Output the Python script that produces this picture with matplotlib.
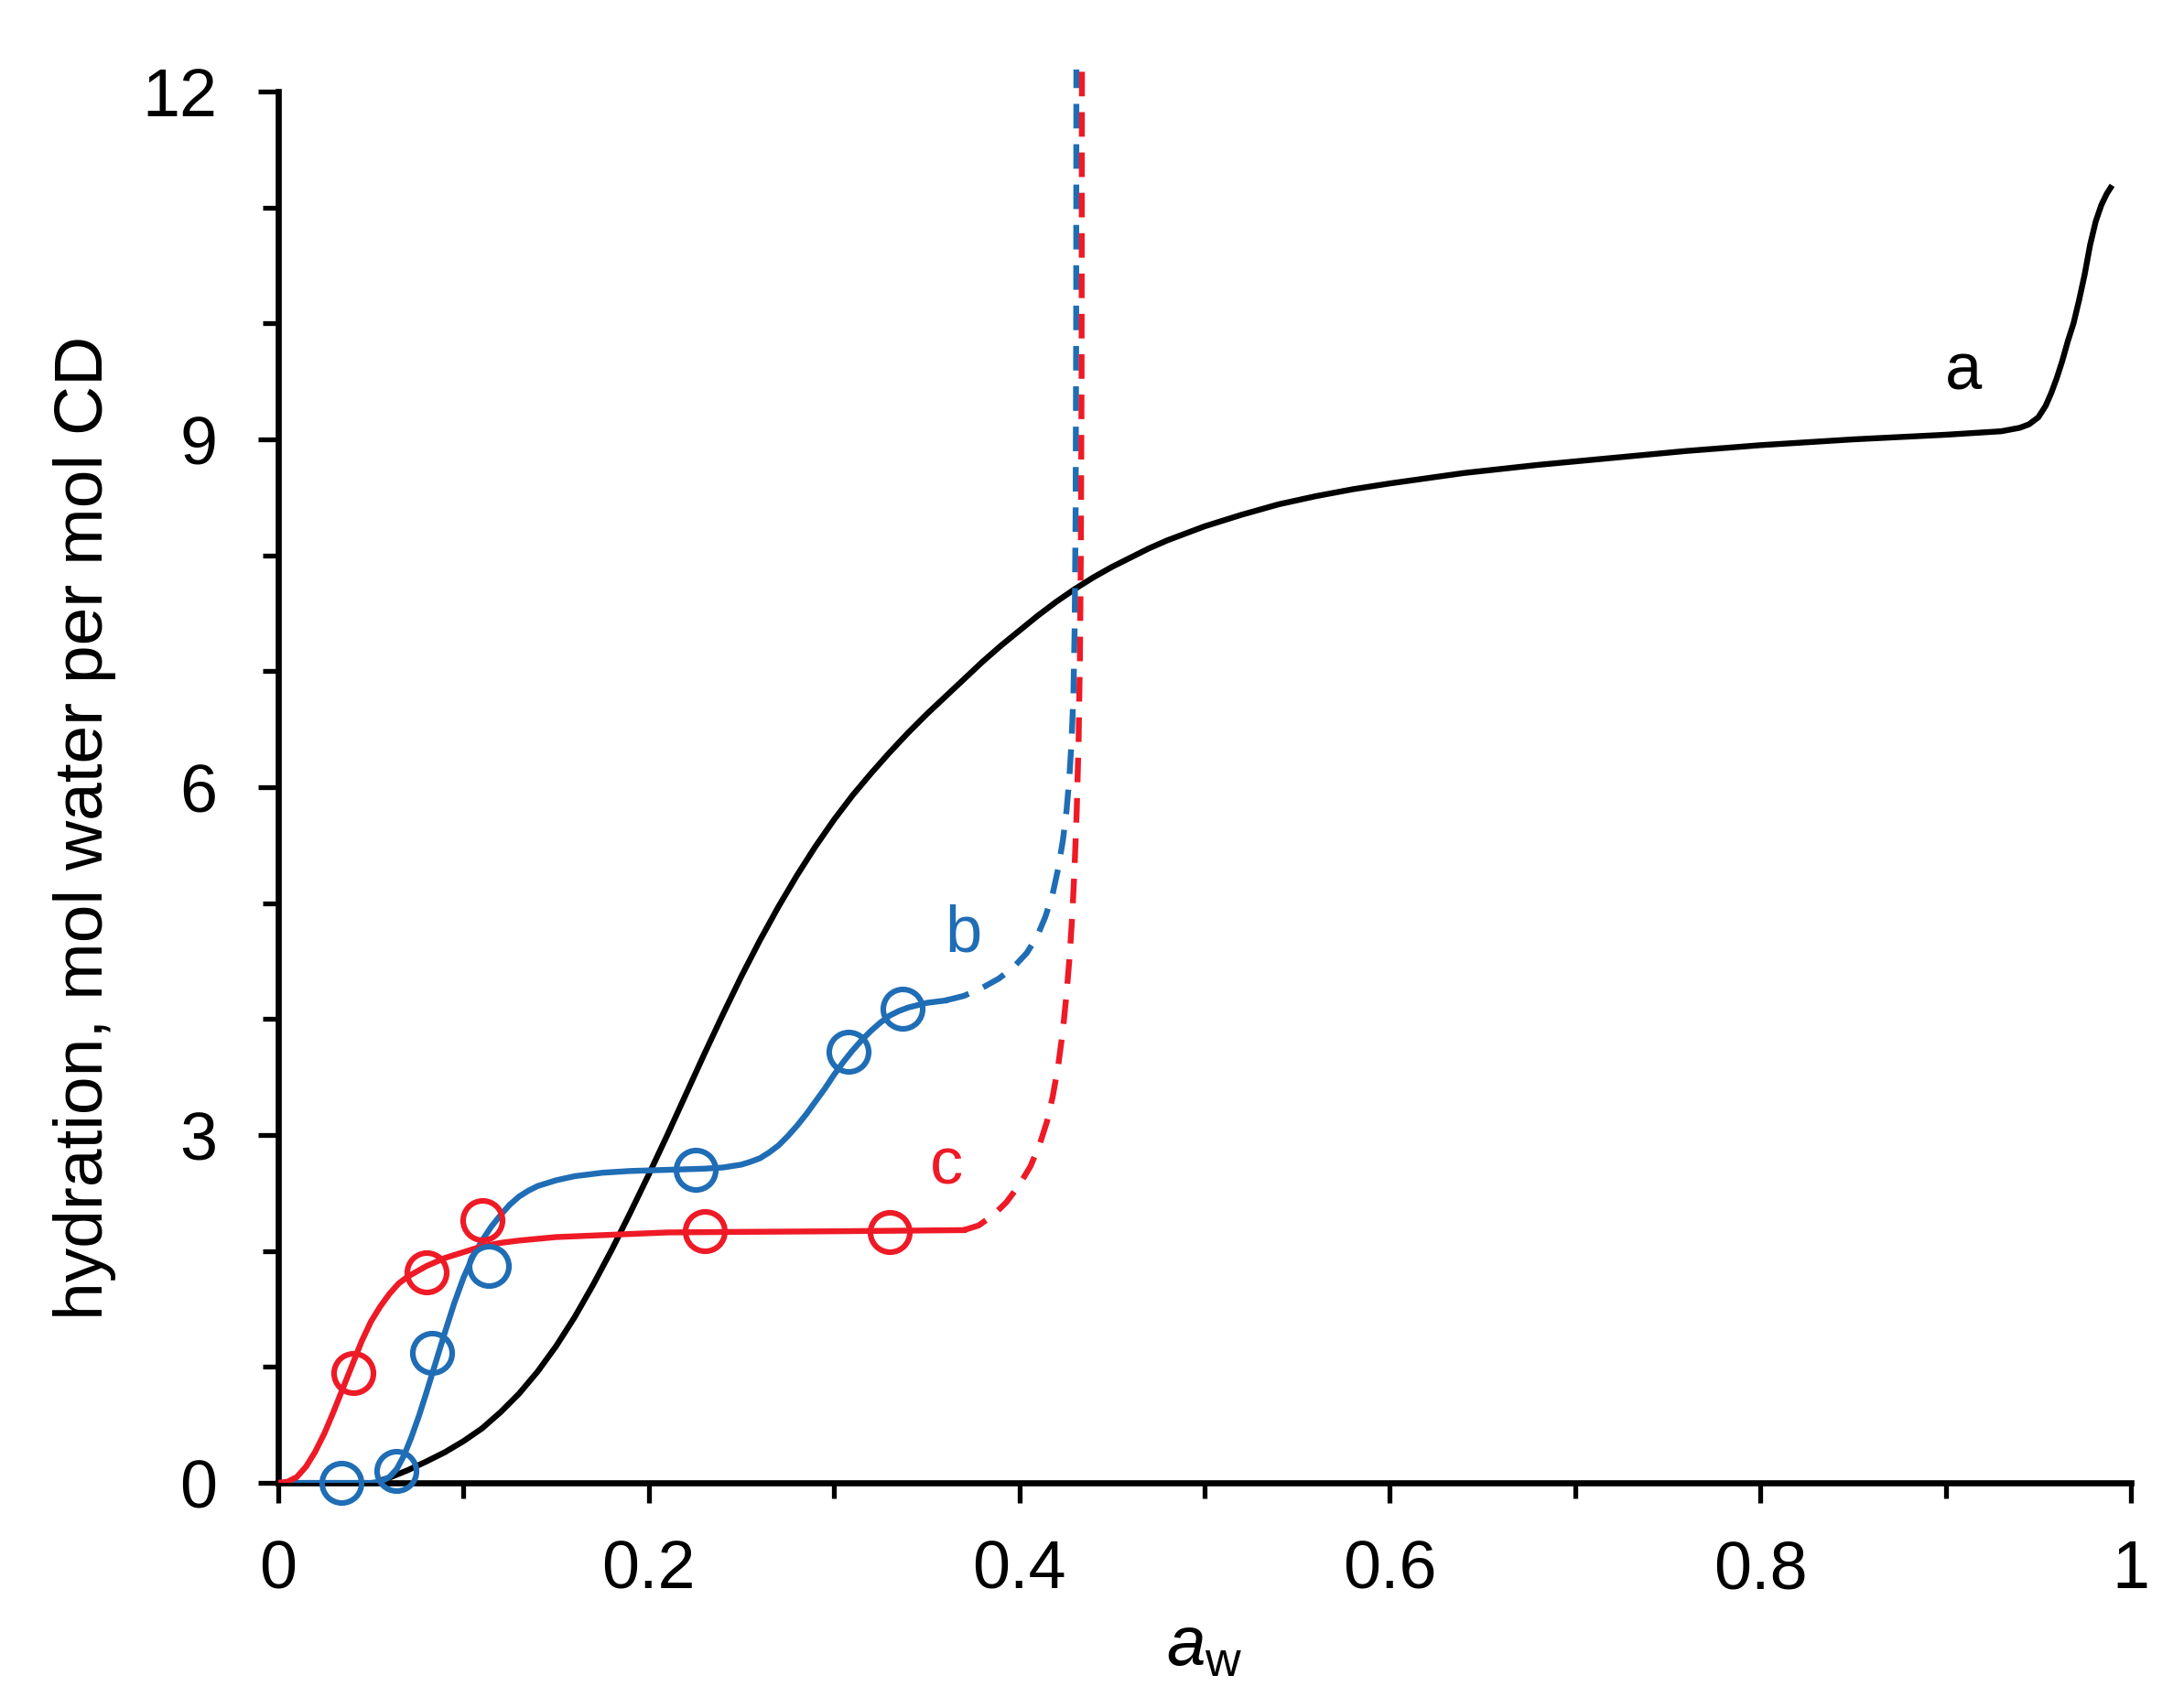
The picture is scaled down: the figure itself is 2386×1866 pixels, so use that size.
import matplotlib
matplotlib.use("Agg")
import matplotlib.pyplot as plt
from matplotlib.ticker import MultipleLocator, FixedLocator

plt.rcParams['font.family'] = ['Liberation Sans', 'DejaVu Sans']
plt.rcParams['mathtext.fontset'] = 'custom'
plt.rcParams['mathtext.rm'] = 'Liberation Sans'
plt.rcParams['mathtext.it'] = 'Liberation Sans:italic'

BLACK = '#000000'
BLUE = '#1f6db5'
RED = '#ee1a26'

# curve a (black)
a_x = [0.055, 0.06, 0.07, 0.08, 0.09, 0.10, 0.11, 0.12, 0.13, 0.14,
       0.15, 0.16, 0.17, 0.18, 0.19, 0.20, 0.21, 0.22, 0.23, 0.24,
       0.25, 0.26, 0.27, 0.28, 0.29, 0.30, 0.31, 0.32, 0.33, 0.34,
       0.35, 0.36, 0.37, 0.38, 0.39, 0.40, 0.41, 0.42, 0.43, 0.44,
       0.45, 0.46, 0.47, 0.48, 0.49, 0.50, 0.52, 0.54, 0.56, 0.58,
       0.60, 0.64, 0.68, 0.72, 0.76, 0.80, 0.85, 0.90, 0.93, 0.94,
       0.945, 0.950, 0.954, 0.957, 0.960, 0.963, 0.966, 0.969, 0.972, 0.975,
       0.978, 0.981, 0.984, 0.987, 0.989]
a_y = [0.02, 0.045, 0.11, 0.185, 0.265, 0.36, 0.47, 0.61, 0.77, 0.96,
       1.18, 1.43, 1.71, 2.01, 2.33, 2.66, 3.00, 3.35, 3.70, 4.04,
       4.37, 4.68, 4.97, 5.24, 5.49, 5.72, 5.93, 6.12, 6.30, 6.47,
       6.63, 6.78, 6.93, 7.08, 7.22, 7.35, 7.48, 7.60, 7.71, 7.81,
       7.90, 7.98, 8.06, 8.13, 8.19, 8.25, 8.35, 8.44, 8.51, 8.57,
       8.62, 8.71, 8.78, 8.84, 8.90, 8.95, 9.00, 9.04, 9.07, 9.10,
       9.13, 9.19, 9.29, 9.40, 9.53, 9.68, 9.85, 10.00, 10.20, 10.42,
       10.68, 10.88, 11.02, 11.12, 11.17]

# curve b (blue): fitted line (solid, then dashed) and data points
b_x = [0.0, 0.05, 0.055, 0.06, 0.064, 0.068, 0.072, 0.076, 0.080, 0.085,
       0.090, 0.095, 0.100, 0.105, 0.110, 0.115, 0.120, 0.125, 0.130, 0.135,
       0.140, 0.150, 0.160, 0.175, 0.19, 0.21, 0.23, 0.24, 0.25, 0.255,
       0.26, 0.265, 0.27, 0.275, 0.28, 0.285, 0.29, 0.295, 0.30, 0.305,
       0.31, 0.315, 0.32, 0.325, 0.33, 0.335, 0.34, 0.345, 0.35, 0.36]
b_y = [0.0, 0.0, 0.01, 0.05, 0.12, 0.24, 0.40, 0.58, 0.78, 1.04,
       1.30, 1.55, 1.77, 1.95, 2.09, 2.21, 2.31, 2.40, 2.47, 2.52,
       2.56, 2.61, 2.645, 2.675, 2.69, 2.70, 2.71, 2.72, 2.745, 2.77,
       2.80, 2.85, 2.91, 2.99, 3.08, 3.18, 3.29, 3.40, 3.52, 3.63,
       3.73, 3.82, 3.90, 3.97, 4.03, 4.07, 4.10, 4.12, 4.14, 4.16]
b_dash_x = [0.360, 0.370, 0.380, 0.389, 0.397, 0.404, 0.4095, 0.414, 0.418, 0.421,
            0.4235, 0.4255, 0.4270, 0.4282, 0.4292, 0.4299, 0.4304, 0.4307, 0.4308]
b_dash_y = [4.16, 4.20, 4.27, 4.35, 4.45, 4.57, 4.71, 4.88, 5.08, 5.30,
            5.54, 5.80, 6.08, 6.40, 6.80, 7.40, 8.40, 10.0, 12.19]
b_pts_x = [0.0342, 0.0639, 0.0828, 0.1137, 0.2252, 0.308, 0.337]
b_pts_y = [0.0, 0.105, 1.12, 1.87, 2.70, 3.72, 4.09]

# curve c (red)
c_x = [0.0, 0.005, 0.01, 0.015, 0.02, 0.025, 0.03, 0.035, 0.04, 0.045,
       0.05, 0.055, 0.06, 0.065, 0.07, 0.08, 0.09, 0.10, 0.11, 0.12,
       0.13, 0.15, 0.18, 0.21, 0.25, 0.30, 0.37]
c_y = [0.0, 0.01, 0.05, 0.14, 0.27, 0.43, 0.62, 0.82, 1.02, 1.22,
       1.39, 1.52, 1.63, 1.72, 1.78, 1.87, 1.94, 1.99, 2.04, 2.07,
       2.09, 2.12, 2.14, 2.16, 2.165, 2.17, 2.18]
c_dash_x = [0.370, 0.378, 0.386, 0.393, 0.400, 0.406, 0.411, 0.415, 0.418, 0.421,
            0.4235, 0.4255, 0.4272, 0.4286, 0.4298, 0.4310, 0.4320, 0.4327, 0.4332, 0.4336,
            0.4338]
c_dash_y = [2.18, 2.22, 2.31, 2.42, 2.57, 2.73, 2.92, 3.12, 3.33, 3.60,
            3.90, 4.22, 4.55, 4.90, 5.30, 5.80, 6.40, 7.10, 8.00, 9.50,
            12.19]
c_pts_x = [0.0405, 0.0800, 0.110, 0.2303, 0.330]
c_pts_y = [0.95, 1.82, 2.27, 2.17, 2.16]

x_ticks = [0, 0.2, 0.4, 0.6, 0.8, 1.0]
x_labels = ['0', '0.2', '0.4', '0.6', '0.8', '1']
y_ticks = [0, 3, 6, 9, 12]
y_labels = ['0', '3', '6', '9', '12']

fig = plt.figure(figsize=(11.93, 9.33), dpi=200)
ax = fig.add_axes([0.1274, 0.1318, 0.8483, 0.8146])

lw = 2.3
dash = (4.2, 2.7)
ms = 15.5
mew = 2.2

ax.plot(a_x, a_y, color=BLACK, lw=lw, zorder=3)

ax.plot(b_x, b_y, color=BLUE, lw=lw, zorder=3)
ax.plot(b_dash_x, b_dash_y, color=BLUE, lw=lw, dashes=dash, clip_on=False, zorder=3)
ax.plot(b_pts_x, b_pts_y, ls='none', marker='o', ms=ms, mfc='none', mec=BLUE,
        mew=mew, clip_on=False, zorder=4)

ax.plot(c_x, c_y, color=RED, lw=lw, zorder=3)
ax.plot(c_dash_x, c_dash_y, color=RED, lw=lw, dashes=dash, clip_on=False, zorder=3)
ax.plot(c_pts_x, c_pts_y, ls='none', marker='o', ms=ms, mfc='none', mec=RED,
        mew=mew, clip_on=False, zorder=4)

# curve labels
ax.text(0.9096, 9.43, 'a', color=BLACK, fontsize=26, ha='center', va='baseline')
ax.text(0.3696, 4.58, 'b', color=BLUE, fontsize=26, ha='center', va='baseline')
ax.text(0.3606, 2.58, 'c', color=RED, fontsize=26, ha='center', va='baseline')

ax.set_xlim(0, 1)
ax.set_ylim(0, 12)
ax.xaxis.set_major_locator(FixedLocator(x_ticks))
ax.set_xticklabels(x_labels)
ax.xaxis.set_minor_locator(MultipleLocator(0.1))
ax.yaxis.set_major_locator(FixedLocator(y_ticks))
ax.set_yticklabels(y_labels)
ax.yaxis.set_minor_locator(MultipleLocator(1))

for side in ['top', 'right']:
    ax.spines[side].set_visible(False)
for side in ['left', 'bottom']:
    ax.spines[side].set_linewidth(2.4)

ax.tick_params(axis='both', which='major', direction='out', length=8, width=1.9,
               labelsize=26.5)
ax.tick_params(axis='both', which='minor', direction='out', length=6, width=1.9)
ax.tick_params(axis='x', which='major', pad=14)
ax.tick_params(axis='y', which='major', pad=16)

ax.set_xlabel(r'$a_\mathrm{w}$', fontsize=27.5, labelpad=5)
ax.set_ylabel('hydration, mol water per mol CD', fontsize=27)
ax.yaxis.set_label_coords(-0.0875, 0.4707)

fig.savefig('out.png', dpi=200)
